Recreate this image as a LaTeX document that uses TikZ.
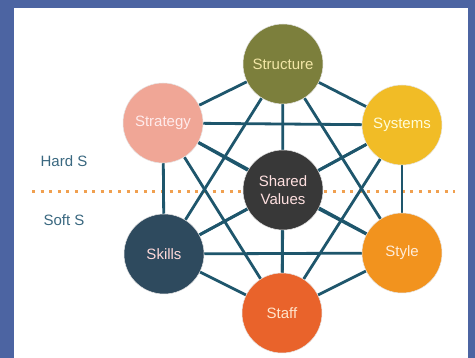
\documentclass[tikz,border=0pt]{standalone}
\usepackage{fontspec}
\setmainfont{Liberation Sans}
\usepackage{xcolor}
\usepackage{tikz}
\usetikzlibrary{positioning}

\definecolor{bgblue}{HTML}{4C64A2}
\definecolor{linkteal}{HTML}{1E566C}
\definecolor{dotorange}{HTML}{F0A050}
\definecolor{labelteal}{HTML}{3A6880}
\definecolor{cstructure}{HTML}{7C7F3C}
\definecolor{cstrategy}{HTML}{F0A696}
\definecolor{csystems}{HTML}{F1BC26}
\definecolor{cshared}{HTML}{383838}
\definecolor{cskills}{HTML}{2E4A5E}
\definecolor{cstyle}{HTML}{F2931E}
\definecolor{cstaff}{HTML}{E9632B}
\definecolor{tstructure}{HTML}{F2E6A6}

\pgfdeclarelayer{back}
\pgfdeclarelayer{links}
\pgfsetlayers{back,links,main}

\begin{document}
\begin{tikzpicture}[
	x=1pt, y=-1pt,
	font=\fontsize{15}{18}\selectfont
]
\tikzset{
    snode/.style = {circle, draw=white!90!black, line width=0.5pt, minimum size=80pt, inner sep=0pt, align=center},
    link/.style = {draw=linkteal, line width=2.8pt},
    sidelabel/.style = {text=labelteal, inner sep=0pt},
}
\useasboundingbox (0,0) rectangle (475,358);
\begin{pgfonlayer}{back}
\fill[bgblue] (0,0) rectangle (475,358);
\fill[white] (14,8) rectangle (468,358);
\draw[dotorange, line width=3pt, dash pattern=on 3pt off 5.6pt] (32,192) -- (455,192);
\end{pgfonlayer}

\node[sidelabel] (hard) at (64,161) {Hard S};
\node[sidelabel] (soft) at (64,220) {Soft S};

\node[snode, fill=cstructure, text=tstructure] (str) at (283,64) {Structure};
\node[snode, fill=cstrategy, text=white!92!red] (stg) at (163,123) {Strategy};
\node[snode, fill=csystems, text=white!85!yellow] (sys) at (402,125) {Systems};
\node[snode, fill=cshared, text=white!88!red] (shv) at (283,190) {Shared\\Values};
\node[snode, fill=cskills, text=white!85!red] (skl) at (164,254) {Skills};
\node[snode, fill=cstyle, text=white!85!orange] (sty) at (402,253) {Style};
\node[snode, fill=cstaff, text=white!80!orange] (stf) at (282,313) {Staff};

\begin{pgfonlayer}{links}
\foreach \a/\b in {str/stg, str/sys, str/shv, str/skl, str/sty, str/stf,
                   stg/sys, stg/shv, stg/skl, stg/sty, stg/stf,
                   sys/shv, sys/skl, sys/sty, sys/stf,
                   shv/skl, shv/sty, shv/stf,
                   skl/sty, skl/stf, sty/stf}
  \draw[link] (\a) -- (\b);
\end{pgfonlayer}
\end{tikzpicture}
\end{document}
